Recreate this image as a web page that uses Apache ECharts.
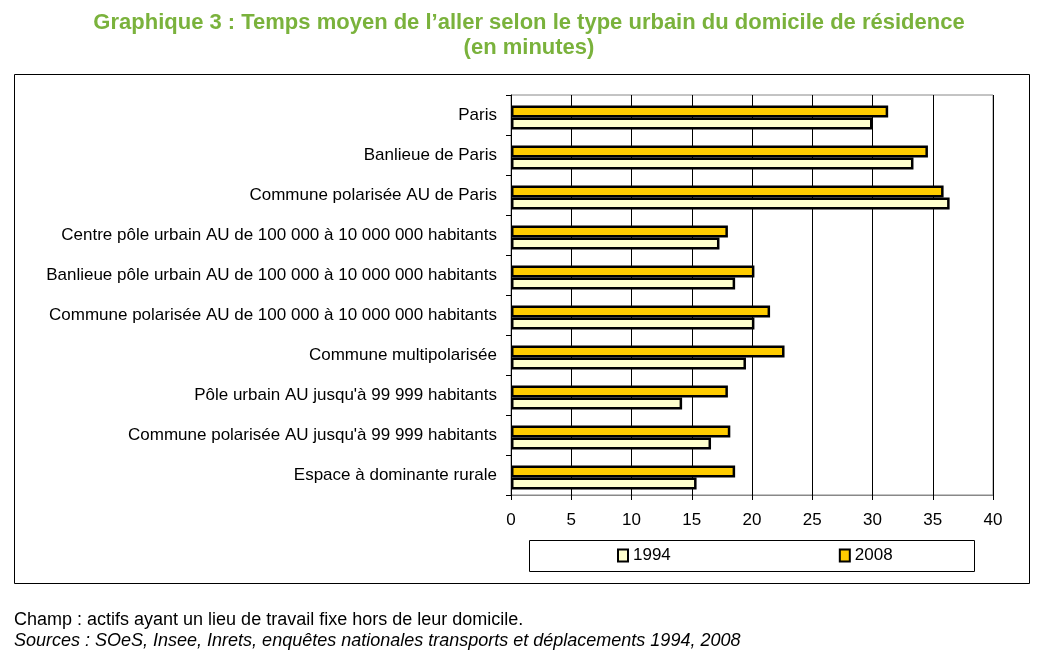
<!DOCTYPE html>
<html><head><meta charset="utf-8">
<script src="https://cdn.jsdelivr.net/npm/echarts@6/dist/echarts.min.js"></script>
<style>html,body{margin:0;padding:0;background:#fff}#c{width:1040px;height:661px}</style>
</head><body><div id="c"></div>
<script>
const categories = [
  "Paris",
  "Banlieue de Paris",
  "Commune polarisée AU de Paris",
  "Centre pôle urbain AU de 100 000 à 10 000 000 habitants",
  "Banlieue pôle urbain AU de 100 000 à 10 000 000 habitants",
  "Commune polarisée AU de 100 000 à 10 000 000 habitants",
  "Commune multipolarisée",
  "Pôle urbain AU jusqu'à 99 999 habitants",
  "Commune polarisée AU jusqu'à 99 999 habitants",
  "Espace à dominante rurale"
];
const values1994 = [30.0, 33.4, 36.4, 17.3, 18.6, 20.2, 19.5, 14.2, 16.6, 15.4];
const values2008 = [31.3, 34.6, 35.9, 18.0, 20.2, 21.5, 22.7, 18.0, 18.2, 18.6];
const xTicks = [0, 5, 10, 15, 20, 25, 30, 35, 40];

const font = "'Liberation Sans', Arial, sans-serif";
const chart = echarts.init(document.getElementById('c'), null, {renderer: 'canvas'});
chart.setOption({
  animation: false,
  title: {
    text: "Graphique 3 : Temps moyen de l’aller selon le type urbain du domicile de résidence\n(en minutes)",
    left: 524, top: 5, textAlign: 'center',
    textStyle: {fontFamily: font, fontSize: 22, fontWeight: 'bold', color: '#7AB23C', lineHeight: 25}
  },
  grid: {left: 511, right: 47, top: 95, bottom: 166, show: true, borderColor: '#888', borderWidth: 1},
  legend: {
    data: ['1994', '2008'], left: 612, top: 542, itemGap: 168,
    icon: 'rect', itemWidth: 10, itemHeight: 12,
    textStyle: {fontFamily: font, fontSize: 17, color: '#000'}
  },
  xAxis: {
    type: 'value', min: xTicks[0], max: xTicks[xTicks.length - 1], interval: 5,
    axisLine: {show: true, lineStyle: {color: '#888', width: 1}},
    axisTick: {show: true, length: 5, lineStyle: {color: '#000'}},
    splitLine: {show: true, lineStyle: {color: '#000', width: 1}},
    axisLabel: {fontFamily: font, fontSize: 17, color: '#000', margin: 17}
  },
  yAxis: {
    type: 'category', data: categories, inverse: true,
    axisLine: {show: true, lineStyle: {color: '#000', width: 1}},
    axisTick: {show: true, length: 5, lineStyle: {color: '#000'}},
    axisLabel: {fontFamily: font, fontSize: 17, color: '#000', margin: 14}
  },
  series: [
    {name: 'spacer', type: 'bar', data: [], barWidth: 5, barGap: '0%', silent: true},
    {name: '2008', type: 'bar', data: values2008, barWidth: 12, barGap: '0%',
     itemStyle: {color: '#FFCC00', borderColor: '#000', borderWidth: 2.5}},
    {name: '1994', type: 'bar', data: values1994, barWidth: 12, barGap: '0%',
     itemStyle: {color: '#FFFFCC', borderColor: '#000', borderWidth: 2.5}}
  ],
  graphic: [
    {type: 'rect', shape: {x: 14.5, y: 74.5, width: 1015, height: 509}, style: {fill: 'none', stroke: '#000', lineWidth: 1}, silent: true, z: -1},
    {type: 'rect', shape: {x: 529.5, y: 540.5, width: 445, height: 31}, style: {fill: 'none', stroke: '#000', lineWidth: 1}, silent: true},
    {type: 'text', left: 14, top: 611, style: {text: "Champ : actifs ayant un lieu de travail fixe hors de leur domicile.", font: "18px 'Liberation Sans', Arial, sans-serif", fill: '#000'}},
    {type: 'text', left: 14, top: 632, style: {text: "Sources : SOeS, Insee, Inrets, enquêtes nationales transports et déplacements 1994, 2008", font: "italic 18px 'Liberation Sans', Arial, sans-serif", fill: '#000'}}
  ]
});
</script>
</body></html>
